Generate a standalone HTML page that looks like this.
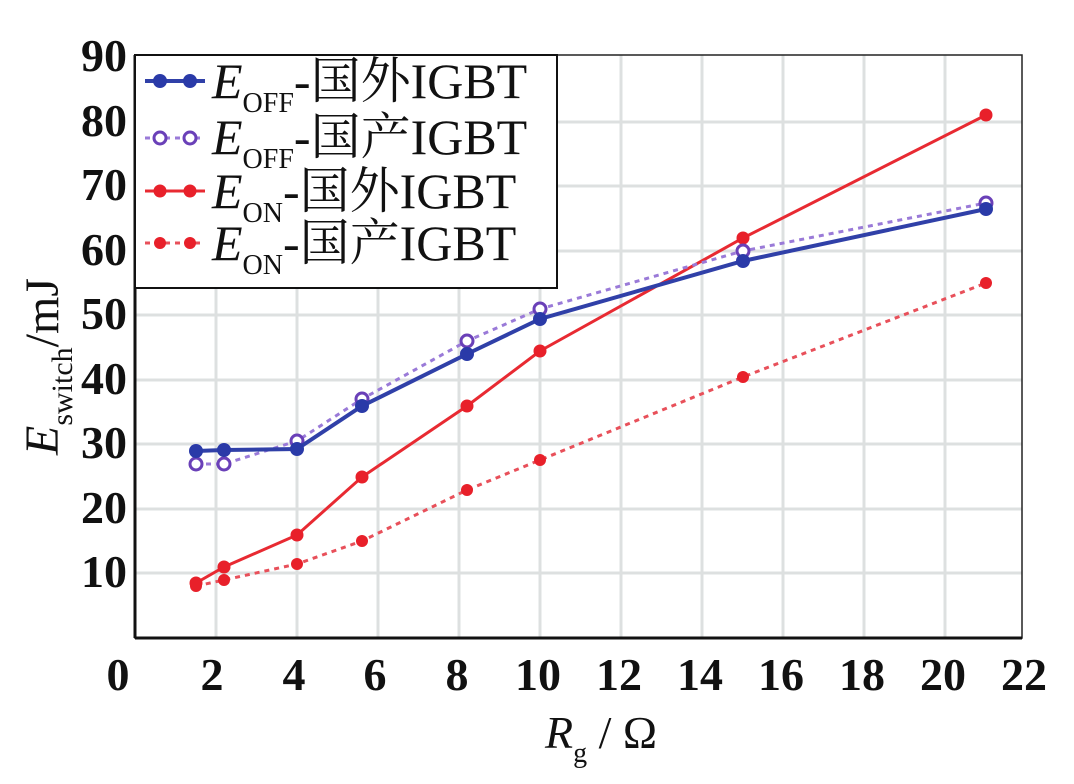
<!DOCTYPE html>
<html><head><meta charset="utf-8"><style>body{margin:0;background:#fff}</style></head><body>
<svg width="1074" height="779" xmlns="http://www.w3.org/2000/svg" font-family="'Liberation Serif','Noto Serif CJK SC',serif">
<g stroke="#dde0e0" stroke-width="3">
<line x1="216" y1="55" x2="216" y2="638"/><line x1="297" y1="55" x2="297" y2="638"/><line x1="378" y1="55" x2="378" y2="638"/><line x1="459" y1="55" x2="459" y2="638"/><line x1="540" y1="55" x2="540" y2="638"/><line x1="621" y1="55" x2="621" y2="638"/><line x1="702" y1="55" x2="702" y2="638"/><line x1="783" y1="55" x2="783" y2="638"/><line x1="864" y1="55" x2="864" y2="638"/><line x1="945" y1="55" x2="945" y2="638"/>
<line x1="135" y1="573" x2="1022" y2="573"/><line x1="135" y1="509" x2="1022" y2="509"/><line x1="135" y1="444" x2="1022" y2="444"/><line x1="135" y1="380" x2="1022" y2="380"/><line x1="135" y1="315" x2="1022" y2="315"/><line x1="135" y1="251" x2="1022" y2="251"/><line x1="135" y1="186" x2="1022" y2="186"/><line x1="135" y1="122" x2="1022" y2="122"/>
</g>
<rect x="135" y="55" width="887" height="583" fill="none" stroke="#222" stroke-width="1.5"/>
<line x1="135" y1="55" x2="135" y2="638" stroke="#111" stroke-width="3"/>
<line x1="135" y1="638" x2="1022" y2="638" stroke="#111" stroke-width="3"/>
<polyline fill="none" stroke="#e8505a" stroke-width="3" stroke-dasharray="5,5" points="196,586 224,580 297,564 362,541 467,490 540,460 743,377 986,283"/>
<g fill="#e8202a"><circle cx="196" cy="586" r="6"/><circle cx="224" cy="580" r="6"/><circle cx="297" cy="564" r="6"/><circle cx="362" cy="541" r="6"/><circle cx="467" cy="490" r="6"/><circle cx="540" cy="460" r="6"/><circle cx="743" cy="377" r="6"/><circle cx="986" cy="283" r="6"/></g>
<polyline fill="none" stroke="#e82a32" stroke-width="3" points="196,583 224,567 297,535 362,477 467,406 540,351 743,238 986,115"/>
<g fill="#e8202a"><circle cx="196" cy="583" r="6.5"/><circle cx="224" cy="567" r="6.5"/><circle cx="297" cy="535" r="6.5"/><circle cx="362" cy="477" r="6.5"/><circle cx="467" cy="406" r="6.5"/><circle cx="540" cy="351" r="6.5"/><circle cx="743" cy="238" r="6.5"/><circle cx="986" cy="115" r="6.5"/></g>
<polyline fill="none" stroke="#9a7ad8" stroke-width="3" stroke-dasharray="5,5" points="196,464 224,464 297,441 362,399 467,341 540,309 743,251 986,203"/>
<g fill="#fff" stroke="#6a40b8" stroke-width="3"><circle cx="196" cy="464" r="6"/><circle cx="224" cy="464" r="6"/><circle cx="297" cy="441" r="6"/><circle cx="362" cy="399" r="6"/><circle cx="467" cy="341" r="6"/><circle cx="540" cy="309" r="6"/><circle cx="743" cy="251" r="6"/><circle cx="986" cy="203" r="6"/></g>
<polyline fill="none" stroke="#3040a8" stroke-width="4" points="196,451 224,450 297,449 362,406 467,354 540,319 743,261 986,209"/>
<g fill="#2a3aa8"><circle cx="196" cy="451" r="7"/><circle cx="224" cy="450" r="7"/><circle cx="297" cy="449" r="7"/><circle cx="362" cy="406" r="7"/><circle cx="467" cy="354" r="7"/><circle cx="540" cy="319" r="7"/><circle cx="743" cy="261" r="7"/><circle cx="986" cy="209" r="7"/></g>
<rect x="135" y="55" width="422" height="233" fill="#fff" stroke="#111" stroke-width="2"/>
<g font-size="50" fill="#111">
<line x1="145" y1="81" x2="205" y2="81" stroke="#3040a8" stroke-width="4"/><circle cx="160" cy="81" r="7" fill="#2a3aa8"/><circle cx="190" cy="81" r="7" fill="#2a3aa8"/>
<text x="212" y="98"><tspan font-style="italic">E</tspan><tspan font-size="28" dy="14">OFF</tspan><tspan dy="-14">-国外IGBT</tspan></text>
<line x1="145" y1="138" x2="205" y2="138" stroke="#9a7ad8" stroke-width="3" stroke-dasharray="5,5"/><circle cx="160" cy="138" r="6" fill="#fff" stroke="#6a40b8" stroke-width="3"/><circle cx="190" cy="138" r="6" fill="#fff" stroke="#6a40b8" stroke-width="3"/>
<text x="212" y="154"><tspan font-style="italic">E</tspan><tspan font-size="28" dy="14">OFF</tspan><tspan dy="-14">-国产IGBT</tspan></text>
<line x1="145" y1="191" x2="205" y2="191" stroke="#e82a32" stroke-width="3"/><circle cx="160" cy="191" r="6.5" fill="#e8202a"/><circle cx="190" cy="191" r="6.5" fill="#e8202a"/>
<text x="212" y="208"><tspan font-style="italic">E</tspan><tspan font-size="28" dy="14">ON</tspan><tspan dy="-14">-国外IGBT</tspan></text>
<line x1="145" y1="243" x2="205" y2="243" stroke="#e8505a" stroke-width="3" stroke-dasharray="5,5"/><circle cx="160" cy="243" r="6" fill="#e8202a"/><circle cx="190" cy="243" r="6" fill="#e8202a"/>
<text x="212" y="260"><tspan font-style="italic">E</tspan><tspan font-size="28" dy="14">ON</tspan><tspan dy="-14">-国产IGBT</tspan></text>
</g>
<g font-size="46" font-weight="bold" fill="#111" text-anchor="end">
<text x="127" y="71">90</text><text x="127" y="136">80</text><text x="127" y="200">70</text><text x="127" y="265">60</text><text x="127" y="329">50</text><text x="127" y="394">40</text><text x="127" y="458">30</text><text x="127" y="523">20</text><text x="127" y="587">10</text>
</g>
<g font-size="46" font-weight="bold" fill="#111" text-anchor="middle">
<text x="118" y="690">0</text><text x="212" y="690">2</text><text x="294" y="690">4</text><text x="375" y="690">6</text><text x="457" y="690">8</text><text x="538" y="690">10</text><text x="619" y="690">12</text><text x="700" y="690">14</text><text x="781" y="690">16</text><text x="862" y="690">18</text><text x="943" y="690">20</text><text x="1024" y="690">22</text>
</g>
<text x="545" y="748" font-size="46" fill="#111"><tspan font-style="italic">R</tspan><tspan font-size="28" dy="14">g</tspan><tspan dy="-14"> / Ω</tspan></text>
<text transform="translate(58,455) rotate(-90)" font-size="48" fill="#111"><tspan font-style="italic">E</tspan><tspan font-size="30" dy="14">switch</tspan><tspan dy="-14">/mJ</tspan></text>
</svg>
</body></html>
